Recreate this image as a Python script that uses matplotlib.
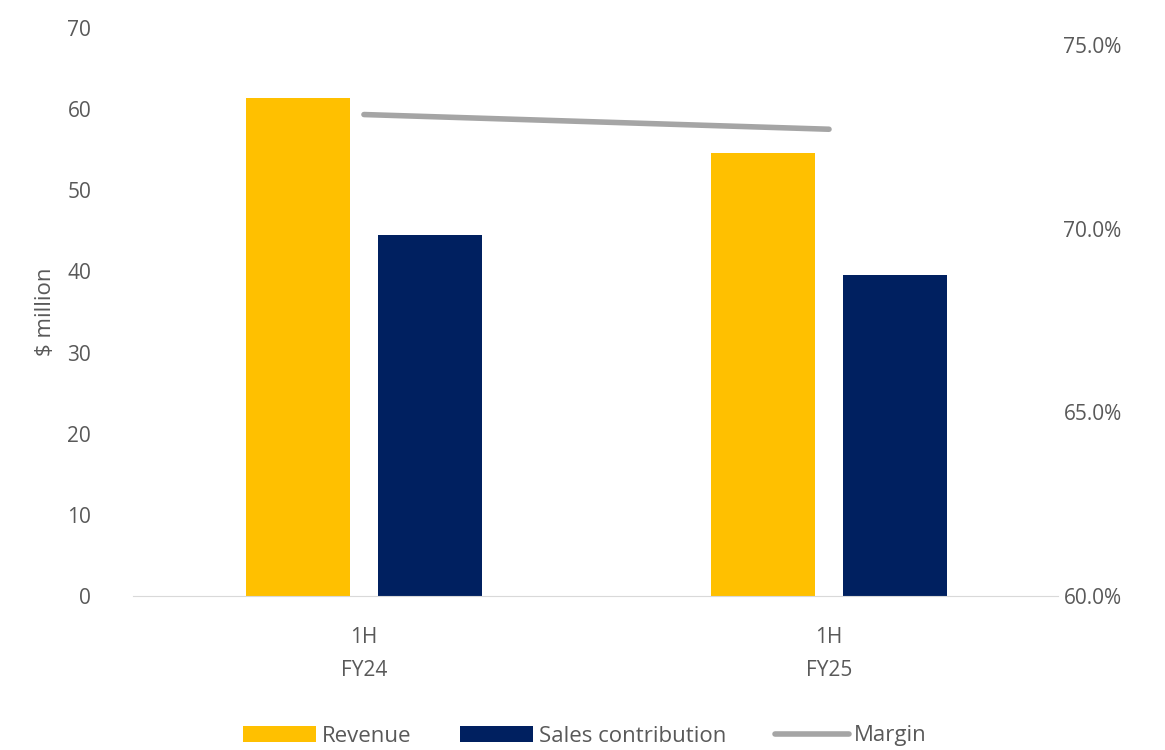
import matplotlib.pyplot as plt
from matplotlib.ticker import PercentFormatter
import numpy as np

categories = ["1H\nFY24", "1H\nFY25"]
revenue = [61.3, 54.6]
sales_contribution = [44.5, 39.6]
margin = [0.731, 0.727]

gold = "#FFC000"
navy = "#002060"
grey = "#A5A5A5"
txt = "#595959"

plt.rcParams["font.family"] = ["Open Sans", "DejaVu Sans"]

fig = plt.figure(figsize=(11.65, 7.5), dpi=100)
ax = fig.add_axes([0.114, 0.205, 0.794, 0.758])
ax2 = ax.twinx()

x = np.arange(len(categories))
w = 0.224
ax.bar(x - 0.142, revenue, w, color=gold, label="Revenue", zorder=2)
ax.bar(x + 0.142, sales_contribution, w, color=navy, label="Sales contribution", zorder=2)
ax2.plot(x, margin, color=grey, lw=4, solid_capstyle="round", label="Margin")

ax.set_xlim(-0.497, 1.492)
ax.set_ylim(0, 70)
ax.set_yticks(range(0, 71, 10))
ax2.set_ylim(0.60, 0.7546)
ax2.set_yticks([0.60, 0.65, 0.70, 0.75])
ax2.yaxis.set_major_formatter(PercentFormatter(1.0, decimals=1))

ax.set_xticks(x)
ax.set_xticklabels(categories, linespacing=1.75)
ax.set_ylabel("$ million", fontsize=16, color=txt, labelpad=8)

for a in (ax, ax2):
    for s in a.spines.values():
        s.set_visible(False)
    a.tick_params(length=0, labelsize=15, colors=txt)
ax.spines["bottom"].set_visible(True)
ax.spines["bottom"].set_color("#D9D9D9")
ax.tick_params(axis="y", pad=30)
ax.tick_params(axis="x", pad=22)
ax2.tick_params(axis="y", pad=4)

h1, l1 = ax.get_legend_handles_labels()
h2, l2 = ax2.get_legend_handles_labels()
fig.legend(h1 + h2, l1 + l2, loc="lower center", bbox_to_anchor=(0.502, -0.022), ncol=3,
           frameon=False, fontsize=16, labelcolor=txt, handlelength=3.3,
           handleheight=0.7, handletextpad=0.25, columnspacing=2.2)

fig.savefig("out.png", dpi=100)
